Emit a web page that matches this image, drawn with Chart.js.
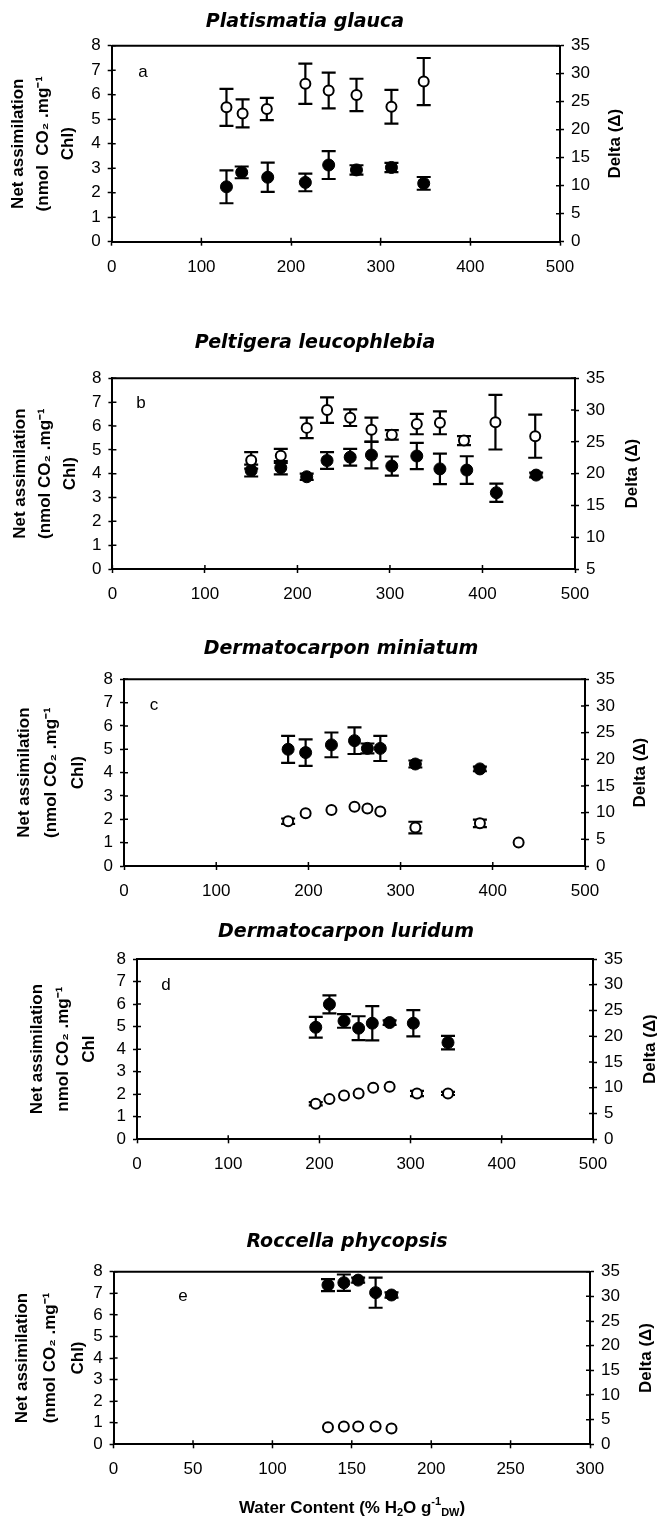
<!DOCTYPE html>
<html><head><meta charset="utf-8">
<script src="https://cdn.jsdelivr.net/npm/chart.js@4.4.1/dist/chart.umd.min.js"></script>
<style>
html,body{margin:0;padding:0;background:#fff;}
#wrap{position:relative;width:657px;height:1517px;background:#fff;overflow:hidden;}
canvas{position:absolute;left:0;}
</style></head>
<body><div id="wrap"></div>
<script>
// ---------------- DATA ----------------
// Panel a: Platismatia glauca
const aNetX = [128, 145, 174, 216, 242, 273, 312, 348];
const aNet = [2.24, 2.83, 2.63, 2.42, 3.13, 2.93, 3.03, 2.38];
const aNetErr = [0.67, 0.24, 0.60, 0.36, 0.57, 0.19, 0.19, 0.26];
const aDeltaX = [128, 146, 173, 216, 242, 273, 312, 348];
const aDelta = [24.0, 22.9, 23.7, 28.2, 27.0, 26.2, 24.1, 28.6];
const aDeltaErr = [3.3, 2.5, 2.0, 3.6, 3.2, 2.9, 3.0, 4.2];
// Panel b: Peltigera leucophlebia
const bNetX = [150, 182, 210, 232, 257, 280, 302, 329, 354, 383, 415, 458];
const bNet = [4.13, 4.25, 3.87, 4.55, 4.69, 4.78, 4.32, 4.74, 4.20, 4.15, 3.20, 3.94];
const bNetErr = [0.25, 0.28, 0.13, 0.35, 0.35, 0.56, 0.40, 0.55, 0.64, 0.58, 0.38, 0.10];
const bDeltaX = [150, 182, 210, 232, 257, 280, 302, 329, 354, 380, 414, 457];
const bDelta = [22.1, 22.8, 27.2, 30.0, 28.8, 26.9, 26.1, 27.8, 28.0, 25.2, 28.1, 25.9];
const bDeltaErr = [1.3, 1.1, 1.6, 2.0, 1.3, 1.9, 0.75, 1.6, 1.8, 0.7, 4.3, 3.4];
// Panel c: Dermatocarpon miniatum
const cNetX = [178, 197, 225, 250, 264, 278, 316, 386];
const cNet = [5.00, 4.86, 5.19, 5.37, 5.04, 5.04, 4.37, 4.16];
const cNetErr = [0.58, 0.57, 0.53, 0.57, 0.21, 0.54, 0.15, 0.10];
const cDeltaX = [178, 197, 225, 250, 264, 278, 316, 386, 428];
const cDelta = [8.4, 9.9, 10.5, 11.1, 10.8, 10.2, 7.2, 8.0, 4.4];
const cDeltaErr = [0.5, 0, 0, 0, 0, 0, 1.1, 0.7, 0];
// Panel d: Dermatocarpon luridum
const dNetX = [196, 211, 227, 243, 258, 277, 303, 341];
const dNet = [4.97, 5.99, 5.25, 4.93, 5.15, 5.18, 5.15, 4.29];
const dNetErr = [0.46, 0.40, 0.30, 0.53, 0.76, 0.10, 0.58, 0.30];
const dDeltaX = [196, 211, 227, 243, 259, 277, 307, 341];
const dDelta = [6.9, 7.8, 8.5, 8.9, 10.0, 10.2, 8.9, 8.9];
const dDeltaErr = [0.3, 0, 0, 0, 0, 0, 0.5, 0.3];
// Panel e: Roccella phycopsis
const eNetX = [135, 145, 154, 165, 175];
const eNet = [7.38, 7.49, 7.61, 7.03, 6.92];
const eNetErr = [0.28, 0.38, 0.12, 0.70, 0.12];
const eDeltaX = [135, 145, 154, 165, 175];
const eDelta = [3.45, 3.6, 3.6, 3.6, 3.2];
const eDeltaErr = [0, 0, 0, 0, 0];

// Texts
const panelTitles = ['Platismatia glauca', 'Peltigera leucophlebia', 'Dermatocarpon miniatum', 'Dermatocarpon luridum', 'Roccella phycopsis'];
const panelLetters = ['a', 'b', 'c', 'd', 'e'];
const leftTitles = [
  ['Net assimilation', '(nmol  CO\u2082 .mg\u207B\u00B9', 'Chl)'],
  ['Net assimilation', '(nmol CO\u2082 .mg\u207B\u00B9', 'Chl)'],
  ['Net assimilation', '(nmol CO\u2082 .mg\u207B\u00B9', 'Chl)'],
  ['Net assimilation', 'nmol CO\u2082 .mg\u207B\u00B9', 'Chl'],
  ['Net assimilation', '(nmol CO\u2082 .mg\u207B\u00B9', 'Chl)']
];
const rightTitle = 'Delta (\u0394)';
// x ranges / y2 ranges (tick definitions)
const xMaxes = [500, 500, 500, 500, 300];
const xSteps = [100, 100, 100, 100, 50];
const y2Mins = [0, 5, 0, 0, 0];
const y2Maxes = [35, 35, 35, 35, 35];

const netXs = [aNetX, bNetX, cNetX, dNetX, eNetX];
const nets = [aNet, bNet, cNet, dNet, eNet];
const netErrs = [aNetErr, bNetErr, cNetErr, dNetErr, eNetErr];
const deltaXs = [aDeltaX, bDeltaX, cDeltaX, dDeltaX, eDeltaX];
const deltas = [aDelta, bDelta, cDelta, dDelta, eDelta];
const deltaErrs = [aDeltaErr, bDeltaErr, cDeltaErr, dDeltaErr, eDeltaErr];

// ---------------- LAYOUT (page px) ----------------
const PAGE_W = 657;
const layout = [
  {L:111.7, R:560, T:45.7, B:241.7, tx:305, ty:22, lx:143, ly:72, yPad:6, yLH:25, rx:615},
  {L:112.4, R:575, T:378.3, B:569, tx:315, ty:343, lx:141, ly:403, yPad:8, yLH:25, rx:632},
  {L:124, R:585, T:679.3, B:866, tx:341, ty:649, lx:154, ly:705, yPad:11, yLH:27, rx:640},
  {L:137, R:593, T:959, B:1139.3, tx:346, ty:932, lx:166, ly:985, yPad:24, yLH:26, rx:650},
  {L:113.6, R:590, T:1271.7, B:1444.3, tx:347, ty:1242, lx:183, ly:1296, yPad:8.5, yLH:28, rx:646, xtx:352, xty:1507}
];

const TICK_FONT = {family:'Liberation Sans', size:17};

const decoPlugin = {
  id: 'deco',
  beforeDatasetsDraw(chart) {
    const ctx = chart.ctx;
    ctx.save();
    ctx.strokeStyle = '#000';
    ctx.lineWidth = 2.2;
    chart.data.datasets.forEach((ds) => {
      const xs = chart.scales.x, ys = chart.scales[ds.yAxisID];
      ds.data.forEach((p, j) => {
        const e = ds.errs[j];
        if (!e) return;
        const px = xs.getPixelForValue(p.x);
        const y1 = ys.getPixelForValue(p.y + e), y2 = ys.getPixelForValue(p.y - e);
        ctx.beginPath();
        ctx.moveTo(px, y1); ctx.lineTo(px, y2);
        ctx.moveTo(px - 7, y1); ctx.lineTo(px + 7, y1);
        ctx.moveTo(px - 7, y2); ctx.lineTo(px + 7, y2);
        ctx.stroke();
      });
    });
    ctx.restore();
  },
  afterDraw(chart) {
    const o = chart.options.plugins.deco;
    const ctx = chart.ctx;
    const ca = chart.chartArea;
    ctx.save();
    ctx.strokeStyle = '#000';
    // top frame line
    ctx.lineWidth = 2;
    ctx.beginPath(); ctx.moveTo(ca.left, ca.top); ctx.lineTo(ca.right, ca.top); ctx.stroke();
    // inward ticks
    ctx.lineWidth = 1.5;
    ctx.beginPath();
    const sy = chart.scales.y, sy2 = chart.scales.y2, sx = chart.scales.x;
    sy.ticks.forEach((t, i) => { const p = sy.getPixelForTick(i); ctx.moveTo(ca.left, p); ctx.lineTo(ca.left + 4, p); });
    sy2.ticks.forEach((t, i) => { const p = sy2.getPixelForTick(i); ctx.moveTo(ca.right - 4, p); ctx.lineTo(ca.right, p); });
    sx.ticks.forEach((t, i) => { const p = sx.getPixelForTick(i); ctx.moveTo(p, ca.bottom - 4); ctx.lineTo(p, ca.bottom); });
    ctx.stroke();
    ctx.fillStyle = '#000';
    // chart title
    ctx.font = 'italic bold 19px "DejaVu Sans"';
    ctx.textAlign = 'center'; ctx.textBaseline = 'middle';
    ctx.fillText(o.title, o.tx, o.ty);
    // panel letter
    ctx.font = '17px "Liberation Sans"';
    ctx.fillText(o.letter, o.lx, o.ly);
    // right axis title, reading upward
    ctx.save();
    ctx.translate(o.rx, (ca.top + ca.bottom) / 2);
    ctx.rotate(-Math.PI / 2);
    ctx.font = 'bold 17px "Liberation Sans"';
    ctx.fillText(o.rtitle, 0, 0);
    ctx.restore();
    // x axis title (bottom panel)
    if (o.xTitle) {
      const parts = o.xTitle;
      let total = 0;
      parts.forEach(pt => { ctx.font = pt.font; total += ctx.measureText(pt.t).width; });
      let x = o.xtx - total / 2;
      ctx.textAlign = 'left'; ctx.textBaseline = 'alphabetic';
      parts.forEach(pt => { ctx.font = pt.font; ctx.fillText(pt.t, x, o.xty + 6 + pt.dy); x += ctx.measureText(pt.t).width; });
    }
    ctx.restore();
  }
};

const wrap = document.getElementById('wrap');
for (let k = 0; k < 5; k++) {
  const g = layout[k];
  const top = Math.round(g.T - 45);
  const bottom = Math.round(k === 4 ? g.B + 73 : g.B + 40);
  const H = bottom - top;
  const cv = document.createElement('canvas');
  cv.width = PAGE_W; cv.height = H;
  cv.style.top = top + 'px'; cv.style.width = PAGE_W + 'px'; cv.style.height = H + 'px';
  wrap.appendChild(cv);
  const xTitle = k === 4 ? [
    {t:'Water Content (% H', font:'bold 17px "Liberation Sans"', dy:0},
    {t:'2', font:'bold 11px "Liberation Sans"', dy:3},
    {t:'O g', font:'bold 17px "Liberation Sans"', dy:0},
    {t:'-1', font:'bold 11px "Liberation Sans"', dy:-8},
    {t:'DW', font:'bold 11px "Liberation Sans"', dy:3},
    {t:')', font:'bold 17px "Liberation Sans"', dy:0}
  ] : null;
  new Chart(cv, {
    type: 'scatter',
    data: {
      datasets: [
        {
          label: 'Delta', yAxisID: 'y2',
          data: deltaXs[k].map((x, i) => ({x: x, y: deltas[k][i]})),
          errs: deltaErrs[k],
          pointRadius: 5, pointHoverRadius: 5,
          backgroundColor: '#fff', borderColor: '#000', borderWidth: 2, showLine: false
        },
        {
          label: 'Net assimilation', yAxisID: 'y',
          data: netXs[k].map((x, i) => ({x: x, y: nets[k][i]})),
          errs: netErrs[k],
          pointRadius: 6, pointHoverRadius: 6,
          backgroundColor: '#000', borderColor: '#000', borderWidth: 1, showLine: false
        }
      ]
    },
    options: {
      responsive: false, maintainAspectRatio: false, animation: false, devicePixelRatio: 1,
      layout: {padding: {top: g.T - top, left: 0, right: 0, bottom: 0}},
      plugins: {
        legend: {display: false}, tooltip: {enabled: false}, title: {display: false},
        deco: {
          title: panelTitles[k], tx: g.tx, ty: g.ty - top,
          letter: panelLetters[k], lx: g.lx, ly: g.ly - top,
          rtitle: rightTitle, rx: g.rx,
          xTitle: xTitle, xtx: g.xtx, xty: g.xty ? g.xty - top : 0
        }
      },
      scales: {
        x: {
          type: 'linear', position: 'bottom', min: 0, max: xMaxes[k],
          ticks: {stepSize: xSteps[k], color: '#000', font: TICK_FONT, padding: 11, maxRotation: 0, autoSkip: false},
          grid: {drawOnChartArea: false, drawTicks: true, tickLength: 4, tickColor: '#000', tickWidth: 1.5},
          border: {display: true, color: '#000', width: 2},
          afterFit: (s) => { s.height = H - (g.B - top); }
        },
        y: {
          type: 'linear', position: 'left', min: 0, max: 8,
          ticks: {stepSize: 1, color: '#000', font: TICK_FONT, padding: 7, autoSkip: false},
          grid: {drawOnChartArea: false, drawTicks: true, tickLength: 4, tickColor: '#000', tickWidth: 1.5},
          border: {display: true, color: '#000', width: 2},
          title: {display: true, text: leftTitles[k], color: '#000',
                  font: {family: 'Liberation Sans', size: 17, weight: 'bold', lineHeight: g.yLH + 'px'},
                  padding: {top: g.yPad, bottom: 0}},
          afterFit: (s) => { s.width = g.L; }
        },
        y2: {
          type: 'linear', position: 'right', min: y2Mins[k], max: y2Maxes[k],
          ticks: {stepSize: 5, color: '#000', font: TICK_FONT, padding: 7, autoSkip: false},
          grid: {drawOnChartArea: false, drawTicks: true, tickLength: 4, tickColor: '#000', tickWidth: 1.5},
          border: {display: true, color: '#000', width: 2},
          afterFit: (s) => { s.width = PAGE_W - g.R; }
        }
      }
    },
    plugins: [decoPlugin]
  });
}
</script>
</body></html>
